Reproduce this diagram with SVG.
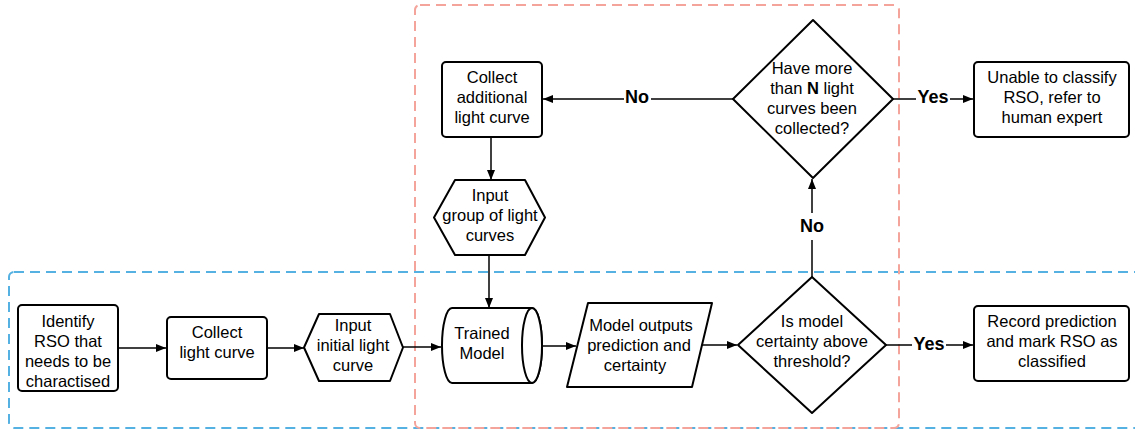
<svg xmlns="http://www.w3.org/2000/svg" width="1135" height="430" viewBox="0 0 1135 430">
  <defs>
    <style>
      .node { fill: #ffffff; stroke: #000000; stroke-width: 2; stroke-linejoin: round; }
      .label { font-family: "Liberation Sans", Arial, sans-serif; font-size: 16.5px; fill: #000000; text-anchor: middle; }
      .edge { fill: none; stroke: #000000; stroke-width: 1.5; }
      .edge-label { font-family: "Liberation Sans", Arial, sans-serif; font-size: 18px; font-weight: bold; fill: #000000; text-anchor: middle; dominant-baseline: central; }
      .zone { fill: none; stroke-width: 2; stroke-dasharray: 10 6; }
    </style>
    <marker id="arrow" viewBox="0 0 10 10" refX="10" refY="5" markerWidth="10" markerHeight="10" markerUnits="userSpaceOnUse" orient="auto">
      <path d="M0,1 L10,5 L0,9 Z" fill="#000000"/>
    </marker>
  </defs>

  <rect width="1135" height="430" fill="#ffffff"/>

  <!-- dashed zones -->
  <g id="zones">
    <rect class="zone" x="9" y="272" width="1150" height="156" rx="5" stroke="#54b1e1"/>
    <rect class="zone" x="415" y="5" width="484" height="423" rx="5" stroke="#f4a49b"/>
  </g>

  <!-- connectors -->
  <g id="connectors">
    <line class="edge" x1="118" y1="348" x2="166" y2="348" marker-end="url(#arrow)"/>
    <line class="edge" x1="267" y1="348" x2="304" y2="348" marker-end="url(#arrow)"/>
    <line class="edge" x1="403" y1="347" x2="441" y2="347" marker-end="url(#arrow)"/>
    <line class="edge" x1="542" y1="346" x2="576" y2="346" marker-end="url(#arrow)"/>
    <line class="edge" x1="702" y1="345" x2="737" y2="345" marker-end="url(#arrow)"/>
    <!-- Yes: certainty above threshold -->
    <line class="edge" x1="886" y1="345" x2="912" y2="345"/>
    <line class="edge" x1="946" y1="345" x2="973" y2="345" marker-end="url(#arrow)"/>
    <text class="edge-label" x="929" y="344">Yes</text>
    <!-- No: certainty below threshold -->
    <line class="edge" x1="812" y1="277" x2="812" y2="240"/>
    <line class="edge" x1="812" y1="213" x2="812" y2="179" marker-end="url(#arrow)"/>
    <text class="edge-label" x="812" y="226">No</text>
    <!-- No: fewer than N curves -->
    <line class="edge" x1="733" y1="99" x2="651" y2="99"/>
    <line class="edge" x1="624" y1="99" x2="543" y2="99" marker-end="url(#arrow)"/>
    <text class="edge-label" x="637" y="97">No</text>
    <!-- Yes: more than N curves -->
    <line class="edge" x1="893" y1="99" x2="916" y2="99"/>
    <line class="edge" x1="950" y1="99" x2="973" y2="99" marker-end="url(#arrow)"/>
    <text class="edge-label" x="933" y="97">Yes</text>
    <line class="edge" x1="491" y1="137" x2="491" y2="180" marker-end="url(#arrow)"/>
    <line class="edge" x1="489" y1="255" x2="489" y2="308" marker-end="url(#arrow)"/>
  </g>

  <!-- nodes -->
  <g id="identify-rso">
    <rect class="node" x="18" y="305" width="100" height="86" rx="4"/>
    <text class="label" x="68" y="327">Identify</text>
    <text class="label" x="68" y="347">RSO that</text>
    <text class="label" x="68" y="367">needs to be</text>
    <text class="label" x="68" y="387">charactised</text>
  </g>

  <g id="collect-light-curve">
    <rect class="node" x="167" y="317" width="100" height="62" rx="4"/>
    <text class="label" x="217" y="338">Collect</text>
    <text class="label" x="217" y="358">light curve</text>
  </g>

  <g id="input-initial">
    <polygon class="node" points="304,347.5 319,314 390,314 403,347.5 390,381 319,381"/>
    <text class="label" x="353" y="331">Input</text>
    <text class="label" x="353" y="351">initial light</text>
    <text class="label" x="353" y="371">curve</text>
  </g>

  <g id="trained-model">
    <path class="node" d="M452,308 L532,308 A10,37.5 0 0 1 532,383 L452,383 A10,37.5 0 0 1 452,308 Z"/>
    <ellipse class="node" cx="532" cy="345.5" rx="10" ry="37.5"/>
    <text class="label" x="482" y="339">Trained</text>
    <text class="label" x="482" y="359">Model</text>
  </g>

  <g id="model-outputs">
    <polygon class="node" points="588,303 712,303 692,387 567,387"/>
    <text class="label" x="641" y="331">Model outputs</text>
    <text class="label" x="639" y="351">prediction and</text>
    <text class="label" x="635" y="371">certainty</text>
  </g>

  <g id="certainty-check">
    <polygon class="node" points="812,277 886,345 812,413 738,345"/>
    <text class="label" x="812" y="327">Is model</text>
    <text class="label" x="812" y="347">certainty above</text>
    <text class="label" x="812" y="367">threshold?</text>
  </g>

  <g id="record-prediction">
    <rect class="node" x="974" y="306" width="155" height="75" rx="4"/>
    <text class="label" x="1052" y="327">Record prediction</text>
    <text class="label" x="1052" y="347">and mark RSO as</text>
    <text class="label" x="1052" y="367">classified</text>
  </g>

  <g id="collect-additional">
    <rect class="node" x="442" y="62" width="100" height="75" rx="4"/>
    <text class="label" x="492" y="83">Collect</text>
    <text class="label" x="492" y="103">additional</text>
    <text class="label" x="492" y="123">light curve</text>
  </g>

  <g id="input-group">
    <polygon class="node" points="434,217.5 455,180 525,180 545,217.5 525,255 455,255"/>
    <text class="label" x="490" y="201">Input</text>
    <text class="label" x="490" y="221">group of light</text>
    <text class="label" x="490" y="241">curves</text>
  </g>

  <g id="curve-count-check">
    <polygon class="node" points="813,20 893,99 813,178 733,99"/>
    <text class="label" x="812" y="74">Have more</text>
    <text class="label" x="812" y="94">than <tspan font-weight="bold">N</tspan> light</text>
    <text class="label" x="812" y="114">curves been</text>
    <text class="label" x="812" y="134">collected?</text>
  </g>

  <g id="refer-expert">
    <rect class="node" x="974" y="62" width="155" height="75" rx="4"/>
    <text class="label" x="1052" y="83">Unable to classify</text>
    <text class="label" x="1052" y="103">RSO, refer to</text>
    <text class="label" x="1052" y="123">human expert</text>
  </g>
</svg>
